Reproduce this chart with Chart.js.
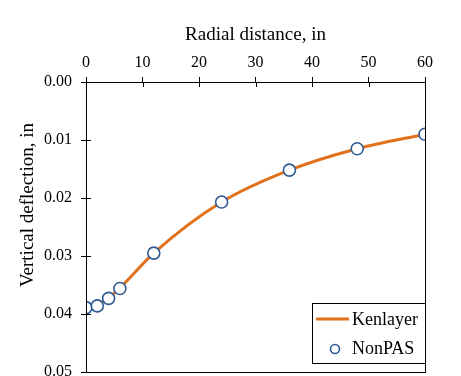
<!DOCTYPE html>
<html><head><meta charset="utf-8">
<script src="https://cdn.jsdelivr.net/npm/chart.js@4/dist/chart.umd.min.js"></script>
<style>html,body{margin:0;padding:0;background:#fff}#wrap{width:461px;height:376px}</style>
</head><body><div id="wrap"><canvas id="c" width="461" height="376"></canvas></div>
<script>
const radialDistance = [0, 2, 4, 6, 12, 24, 36, 48, 60];
const kenlayer = [0.0389, 0.0384, 0.0372, 0.0355, 0.0295, 0.0207, 0.0152, 0.0115, 0.0090];
const nonpas = [0.0389, 0.0386, 0.0373, 0.0356, 0.0295, 0.0207, 0.0152, 0.0115, 0.0090];
const xTicks = [0, 10, 20, 30, 40, 50, 60];
const yTicks = [0.00, 0.01, 0.02, 0.03, 0.04, 0.05];

const FONT = '"Liberation Serif", "Times New Roman", serif';
const ORANGE = '#E2711D';
const NAVY = '#2F5B93';

const framePlugin = {
  id: 'frame',
  afterDraw(chart) {
    const {ctx, chartArea: a} = chart;
    const xs = chart.scales.x, ys = chart.scales.y;
    ctx.save();
    ctx.strokeStyle = '#000'; ctx.lineWidth = 1;
    ctx.strokeRect(a.left + 0.5, a.top + 0.5, a.right - a.left, a.bottom - a.top);
    // inner tick halves
    ctx.beginPath();
    xTicks.forEach(v => { const px = Math.round(xs.getPixelForValue(v)) + 0.5; ctx.moveTo(px, a.top); ctx.lineTo(px, a.top + 5); });
    yTicks.forEach(v => { const py = Math.round(ys.getPixelForValue(v)) + 0.5; ctx.moveTo(a.left, py); ctx.lineTo(a.left + 5, py); });
    ctx.stroke();
    // titles
    ctx.fillStyle = '#000';
    ctx.font = '19px ' + FONT;
    ctx.textAlign = 'center'; ctx.textBaseline = 'middle';
    ctx.fillText('Radial distance, in', (a.left + a.right) / 2, 35);
    ctx.translate(28, 205); ctx.rotate(-Math.PI / 2);
    ctx.fillText('Vertical deflection, in', 0, 0);
    ctx.restore();
    // legend
    ctx.save();
    const lx = 312, ly = 303, lw = a.right - lx, lh = 60;
    ctx.fillStyle = '#fff';
    ctx.fillRect(lx, ly, lw, lh);
    ctx.strokeStyle = '#000'; ctx.lineWidth = 1;
    ctx.strokeRect(lx + 0.5, ly + 0.5, lw, lh);
    ctx.strokeStyle = ORANGE; ctx.lineWidth = 3;
    ctx.beginPath(); ctx.moveTo(316, 319); ctx.lineTo(349, 319); ctx.stroke();
    ctx.strokeStyle = NAVY; ctx.lineWidth = 1.6; ctx.fillStyle = '#fff';
    ctx.beginPath(); ctx.arc(335, 349, 4.5, 0, Math.PI * 2); ctx.fill(); ctx.stroke();
    ctx.fillStyle = '#000'; ctx.font = '18px ' + FONT;
    ctx.textAlign = 'left'; ctx.textBaseline = 'middle';
    ctx.fillText('Kenlayer', 352, 320);
    ctx.fillText('NonPAS', 352, 349);
    ctx.restore();
  }
};

new Chart(document.getElementById('c'), {
  type: 'scatter',
  data: {
    datasets: [
      {
        label: 'NonPAS',
        data: radialDistance.map((x, i) => ({x, y: nonpas[i]})),
        showLine: false,
        pointRadius: 6, pointBorderWidth: 1.6,
        pointBackgroundColor: '#fff', pointBorderColor: NAVY
      },
      {
        label: 'Kenlayer',
        data: radialDistance.map((x, i) => ({x, y: kenlayer[i]})),
        showLine: true, borderColor: ORANGE, borderWidth: 3,
        pointRadius: 0, tension: 0.4, cubicInterpolationMode: 'monotone'
      }
    ]
  },
  options: {
    responsive: false, animation: false,
    layout: {autoPadding: false, padding: {left: 0, right: 36, top: 0, bottom: 4}},
    plugins: {legend: {display: false}, tooltip: {enabled: false}},
    scales: {
      x: {
        type: 'linear', position: 'top', min: 0, max: 60,
        afterBuildTicks: s => { s.ticks = xTicks.map(v => ({value: v})); },
        afterFit: s => { s.height = 82; s.paddingLeft = 0; s.paddingRight = 0; },
        grid: {drawOnChartArea: false, color: '#000', tickLength: 5},
        border: {color: '#000'},
        ticks: {color: '#000', font: {family: FONT, size: 16}, padding: 5, maxRotation: 0}
      },
      y: {
        type: 'linear', reverse: true, min: 0, max: 0.05,
        afterBuildTicks: s => { s.ticks = yTicks.map(v => ({value: v})); },
        afterFit: s => { s.width = 86; s.paddingTop = 0; s.paddingBottom = 0; },
        grid: {drawOnChartArea: false, color: '#000', tickLength: 5},
        border: {color: '#000'},
        ticks: {color: '#000', font: {family: FONT, size: 16}, padding: 9, callback: v => v.toFixed(2)}
      }
    }
  },
  plugins: [framePlugin]
});
</script></body></html>
